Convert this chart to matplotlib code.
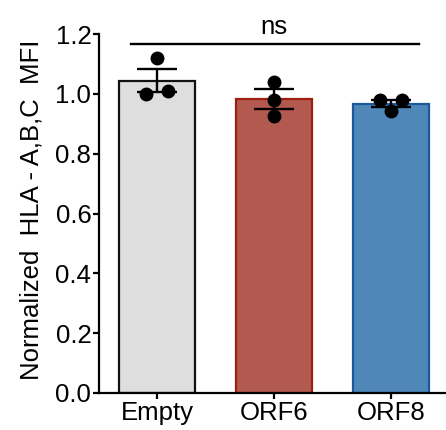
import numpy as np
import matplotlib
matplotlib.use("Agg")
import matplotlib.pyplot as plt

plt.rcParams['font.family'] = ['Liberation Sans', 'DejaVu Sans']

categories = ["Empty", "ORF6", "ORF8"]
empty_vals = [1.12, 1.00, 1.01]
orf6_vals = [1.04, 0.98, 0.925]
orf8_vals = [0.98, 0.98, 0.943]
point_offsets = [[0.0, -0.094, 0.094], [0.0, 0.0, 0.0], [-0.098, 0.096, 0.0]]
yticks = [0.0, 0.2, 0.4, 0.6, 0.8, 1.0, 1.2]
ylabel = "Normalized  HLA - A,B,C  MFI"
sig_label = "ns"
sig_y = 1.167

fills = ["#DEDEDE", "#B35A50", "#4F87B8"]
edges = ["#111111", "#A01E10", "#1A5A9A"]

groups = [empty_vals, orf6_vals, orf8_vals]
means = [np.mean(g) for g in groups]
sems = [np.std(g, ddof=1) / np.sqrt(len(g)) for g in groups]

fig = plt.figure(figsize=(4.46, 4.30), dpi=100)
ax = fig.add_axes([99 / 446, 37 / 430, 346 / 446, 359 / 430])

x = np.arange(len(categories))
ax.bar(x, means, width=0.65, color=fills, edgecolor=edges, linewidth=1.6, zorder=2)
ax.errorbar(x, means, yerr=sems, fmt='none', ecolor='black', elinewidth=1.7,
            capsize=14.5, capthick=1.7, zorder=3)
for i, g in enumerate(groups):
    ax.plot(x[i] + np.array(point_offsets[i]), g, 'o', color='black',
            markersize=9, zorder=4, clip_on=False)

ax.plot([-0.229, 2.235], [sig_y, sig_y], color='black', lw=1.7, clip_on=False)
ax.text(1.0, 1.2, sig_label, ha='center', va='baseline', fontsize=18.5)

ax.set_xlim(-0.5, 2.46)
ax.set_ylim(0, 1.2)
ax.set_yticks(yticks)
ax.set_yticklabels([f"{v:.1f}" for v in yticks])
ax.set_xticks(x)
ax.set_xticklabels(categories)
ax.tick_params(axis='both', labelsize=18.5, width=1.6, length=4, pad=1.5, color='black')
ax.set_ylabel(ylabel, fontsize=18.5)
ax.yaxis.set_label_coords(-0.16, 0.511)

for s in ['top', 'right']:
    ax.spines[s].set_visible(False)
for s in ['left', 'bottom']:
    ax.spines[s].set_linewidth(1.6)

fig.savefig("out.png", dpi=100)
